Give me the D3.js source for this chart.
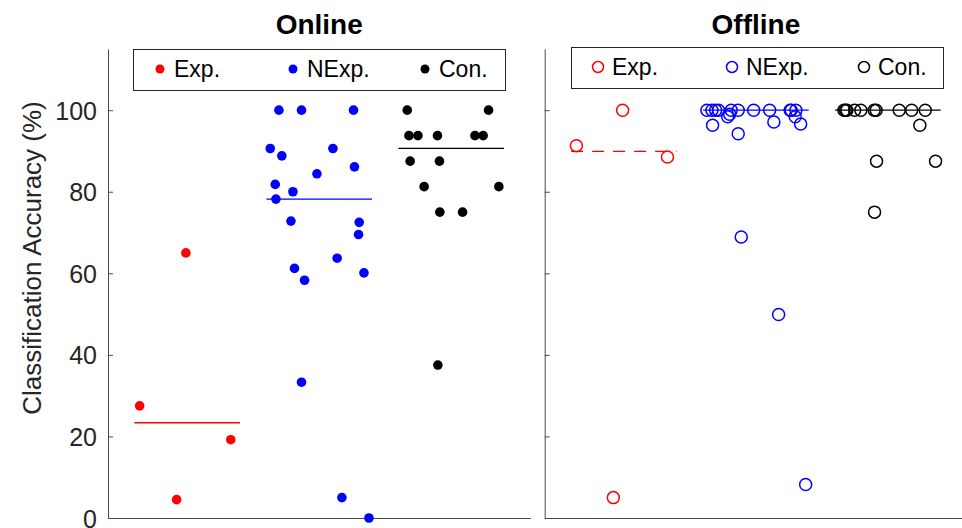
<!DOCTYPE html>
<html>
<head>
<meta charset="utf-8">
<script src="https://cdn.jsdelivr.net/npm/d3@7"></script>
<style>
  body { margin: 0; background: #fff; }
  svg text { font-family: "Liberation Sans", Arial, sans-serif; }
</style>
</head>
<body>
<div id="viz"></div>
<script>
const width = 962;
const height = 528;

// groups and legend labels
const groups = ['Exp.', 'NExp.', 'Con.'];
const groupColors = ['#ff0000', '#0000ff', '#000000'];
const panelTitles = ['Online', 'Offline'];
const yTicks = [0, 20, 40, 60, 80, 100];

// per-subject horizontal jitter (x units, group centre = 0), same in both panels
const expJitter = [-0.36, -0.08, 0.33, -0.01];
const nexpJitter = [-0.305, -0.134, 0.26, -0.371, -0.283, 0.104, 0.267, -0.017, -0.333, -0.199, -0.328,
                    -0.214, 0.303, 0.298, 0.136, -0.187, -0.111, 0.339, -0.134, 0.172, 0.377];
const conJitter = [-0.333, 0.283, -0.32, -0.252, -0.104, 0.18, 0.242, -0.311, -0.089, -0.205, 0.361,
                   -0.086, 0.086, -0.101];

// accuracy (%) per subject
const expOnline = [27.5, 4.5, 19.2, 65];
const nexpOnline = [100, 100, 100, 90.6, 88.8, 90.6, 86.1, 84.4, 81.8, 80.0, 78.2,
                    72.8, 72.5, 69.5, 63.7, 61.2, 58.3, 60.1, 33.3, 5.0, 0.0];
const conOnline = [100, 100, 93.75, 93.75, 93.75, 93.75, 93.75, 87.5, 87.5, 81.25, 81.25, 75, 75, 37.5];

const expOffline = [91.3, 5.0, 88.5, 100];
const nexpOffline = [100, 100, 100, 100, 100, 100, 100, 100, 100, 99.0, 96.3,
                     98.4, 100, 98.4, 97.1, 100, 68.9, 96.6, 94.2, 49.9, 8.2];
const conOffline = [100, 100, 100, 100, 100, 100, 96.3, 100, 100, 100, 87.5, 87.5, 100, 75];

const jitters = [expJitter, nexpJitter, conJitter];
const panelValues = [
    [expOnline, nexpOnline, conOnline],
    [expOffline, nexpOffline, conOffline]
];

const panelLeft = [108, 544.7];
const panelWidth = 422.4;
const axisColor = '#4a4a4a';

const svg = d3.select('#viz')
    .append('svg')
        .attr('width', width)
        .attr('height', height);

const y = d3.scaleLinear()
    .domain([0, 115])
    .range([518, 49]);

panelTitles.forEach((title, p) => {
    const x = d3.scaleLinear()
        .domain([0.4, 3.6])
        .range([panelLeft[p], panelLeft[p] + panelWidth]);

    const g = svg.append('g');

    // axes
    const yAxis = d3.axisLeft(y)
        .tickValues(yTicks)
        .tickSizeInner(-5)
        .tickSizeOuter(0)
        .tickPadding(11);
    if (p === 1) yAxis.tickFormat('');

    const ya = g.append('g')
        .attr('transform', `translate(${panelLeft[p]}, 0)`)
        .call(yAxis);
    ya.selectAll('path, line').attr('stroke', axisColor);
    ya.selectAll('text')
        .attr('fill', '#262626')
        .style('font-size', '25px')
        .attr('dy', '0.36em');

    const xa = g.append('g')
        .attr('transform', `translate(0, ${y(0)})`)
        .call(d3.axisBottom(x).tickValues([]).tickSizeOuter(0));
    xa.select('path').attr('stroke', axisColor);

    // title
    g.append('text')
        .attr('x', panelLeft[p] + panelWidth / 2)
        .attr('y', 34)
        .attr('text-anchor', 'middle')
        .style('font-size', '28px')
        .style('font-weight', 'bold')
        .text(title);

    // median lines and points
    groups.forEach((grp, i) => {
        const vals = panelValues[p][i];
        const med = d3.median(vals);
        g.append('line')
            .attr('x1', x(i + 1 - 0.4))
            .attr('x2', x(i + 1 + 0.4))
            .attr('y1', y(med))
            .attr('y2', y(med))
            .attr('stroke', groupColors[i])
            .attr('stroke-width', 1.3)
            .attr('stroke-dasharray', (p === 1 && i === 0) ? '12,9' : null);

        const pts = vals.map((v, k) => ({x: i + 1 + jitters[i][k], v: v}));
        g.selectAll(null)
            .data(pts)
            .join('circle')
                .attr('cx', d => x(d.x))
                .attr('cy', d => y(d.v))
                .attr('r', p === 0 ? 4.8 : 6)
                .attr('fill', p === 0 ? groupColors[i] : 'none')
                .attr('stroke', p === 0 ? 'none' : groupColors[i])
                .attr('stroke-width', 1.5);
    });

    // legend
    const lx = p === 0 ? 133 : 571;
    const ly = p === 0 ? 49 : 47;
    g.append('rect')
        .attr('x', lx + 0.5)
        .attr('y', ly + 0.5)
        .attr('width', 372)
        .attr('height', 41)
        .attr('fill', '#fff')
        .attr('stroke', '#262626')
        .attr('stroke-width', 1);

    const itemX = p === 0 ? [160, 293, 425] : [598, 732, 864];
    groups.forEach((grp, i) => {
        g.append('circle')
            .attr('cx', itemX[i])
            .attr('cy', ly + 20)
            .attr('r', p === 0 ? 4.5 : 5.5)
            .attr('fill', p === 0 ? groupColors[i] : 'none')
            .attr('stroke', p === 0 ? 'none' : groupColors[i])
            .attr('stroke-width', 1.5);
        g.append('text')
            .attr('x', itemX[i] + 14)
            .attr('y', ly + 28)
            .style('font-size', '23px')
            .attr('fill', '#000')
            .text(grp);
    });
});

// y label
svg.append('text')
    .attr('transform', 'translate(41, 258) rotate(-90)')
    .attr('text-anchor', 'middle')
    .style('font-size', '26px')
    .attr('fill', '#262626')
    .text('Classification Accuracy (%)');
</script>
</body>
</html>
